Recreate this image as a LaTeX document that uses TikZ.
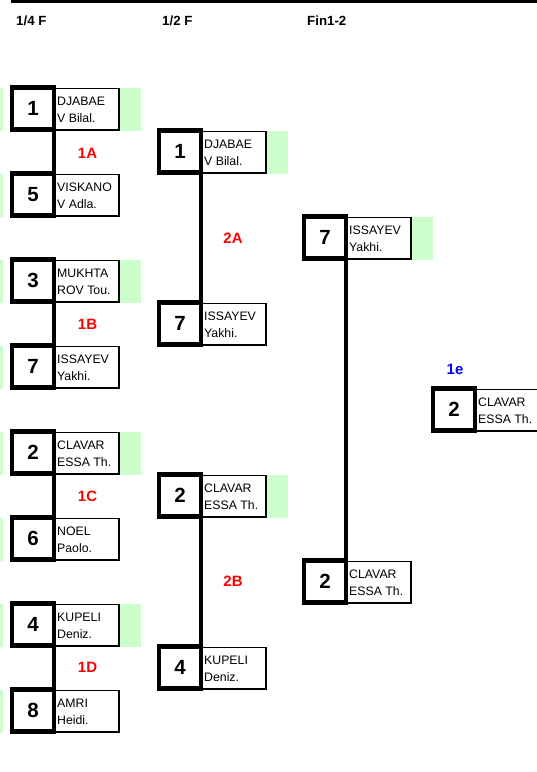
\documentclass[tikz,border=0pt]{standalone}
\usepackage{fontspec}
\setmainfont{Liberation Sans}
\definecolor{cellgreen}{HTML}{CCFFCC}
\definecolor{lblred}{HTML}{FF0000}
\definecolor{lblblue}{HTML}{0000FF}
\tikzset{
  seedbox/.style={draw=black, line width=4.5pt, minimum width=42pt, minimum height=42pt,
    inner sep=0pt, outer sep=0pt, font=\fontsize{20.5}{24}\selectfont\bfseries,
    text height=14.7pt, text depth=0pt},
  namebox/.style={draw=black, line width=1.3pt, minimum width=65pt, minimum height=41.5pt,
    inner sep=0pt, outer sep=0pt},
  nametext/.style={anchor=base west, inner sep=0pt, font=\fontsize{12.3}{15}\selectfont},
  conn/.style={draw=black, line width=4.5pt},
  header/.style={anchor=base west, inner sep=0pt, font=\fontsize{13.3}{16}\selectfont\bfseries},
  matchlbl/.style={inner sep=0pt, font=\fontsize{15}{18}\selectfont\bfseries, text height=10.7pt, text depth=0pt},
}
\newcommand\bentry[6]{%
  \node[namebox] (#1n) at (#2+74.5,#3+21.75) {};
  \node[seedbox] (#1s) at (#2+21,#3+21) {#4};
  \node[nametext] (#1a) at (#2+45,#3+18) {#5};
  \node[nametext] (#1b) at (#2+45,#3+35) {#6};
}
\newcommand\gcell[2]{\fill[cellgreen] (#1,#2) rectangle ++(22,43.5);}
\begin{document}
\begin{tikzpicture}[x=1pt,y=-1pt]
\path[use as bounding box] (0,0) rectangle (537,772);
\clip (0,0) rectangle (537,772);
% top rule
\coordinate (tl) at (11,1.3);
\coordinate (tr) at (537,1.3);
\draw[line width=2.7pt] (tl) -- (tr);
% headers
\node[header] (h1) at (16,25) {1/4 F};
\node[header] (h2) at (162,25) {1/2 F};
\node[header] (h3) at (307,25) {Fin1-2};
% green cells
\foreach \t in {87.5,173.5,259.5,345.5,431.5,517.5,603.5,689.5}{\fill[cellgreen] (0,\t) rectangle ++(2.5,43.5);}
\gcell{119}{87.5}
\gcell{119}{259.5}
\gcell{119}{431.5}
\gcell{119}{603.5}
\gcell{266}{130.5}
\gcell{266}{474.5}
\gcell{411}{216.5}
% quarter finals
\bentry{q1}{12}{87.5}{1}{DJABAE}{V Bilal.}
\bentry{q2}{12}{173.5}{5}{VISKANO}{V Adla.}
\bentry{q3}{12}{259.5}{3}{MUKHTA}{ROV Tou.}
\bentry{q4}{12}{345.5}{7}{ISSAYEV}{Yakhi.}
\bentry{q5}{12}{431.5}{2}{CLAVAR}{ESSA Th.}
\bentry{q6}{12}{517.5}{6}{NOEL}{Paolo.}
\bentry{q7}{12}{603.5}{4}{KUPELI}{Deniz.}
\bentry{q8}{12}{689.5}{8}{AMRI}{Heidi.}
% semi finals
\bentry{s1}{159}{130.5}{1}{DJABAE}{V Bilal.}
\bentry{s2}{159}{302.5}{7}{ISSAYEV}{Yakhi.}
\bentry{s3}{159}{474.5}{2}{CLAVAR}{ESSA Th.}
\bentry{s4}{159}{646.5}{4}{KUPELI}{Deniz.}
% final
\bentry{f1}{304}{216.5}{7}{ISSAYEV}{Yakhi.}
\bentry{f2}{304}{560.5}{2}{CLAVAR}{ESSA Th.}
% winner
\bentry{w}{433}{388.5}{2}{CLAVAR}{ESSA Th.}
% connectors
\draw[conn] (q1s.south east) -- (q2s.north east);
\draw[conn] (q3s.south east) -- (q4s.north east);
\draw[conn] (q5s.south east) -- (q6s.north east);
\draw[conn] (q7s.south east) -- (q8s.north east);
\draw[conn] (s1s.south east) -- (s2s.north east);
\draw[conn] (s3s.south east) -- (s4s.north east);
\draw[conn] (f1s.south east) -- (f2s.north east);
% match labels
\node[matchlbl, text=lblred] (l1a) at (87.5,153) {1A};
\node[matchlbl, text=lblred] (l1b) at (87.5,324.3) {1B};
\node[matchlbl, text=lblred] (l1c) at (87.5,495.7) {1C};
\node[matchlbl, text=lblred] (l1d) at (87.5,667) {1D};
\node[matchlbl, text=lblred] (l2a) at (233,238.5) {2A};
\node[matchlbl, text=lblred] (l2b) at (233,581.5) {2B};
\node[matchlbl, text=lblblue] (l1e) at (455,369) {1e};
\end{tikzpicture}
\end{document}
